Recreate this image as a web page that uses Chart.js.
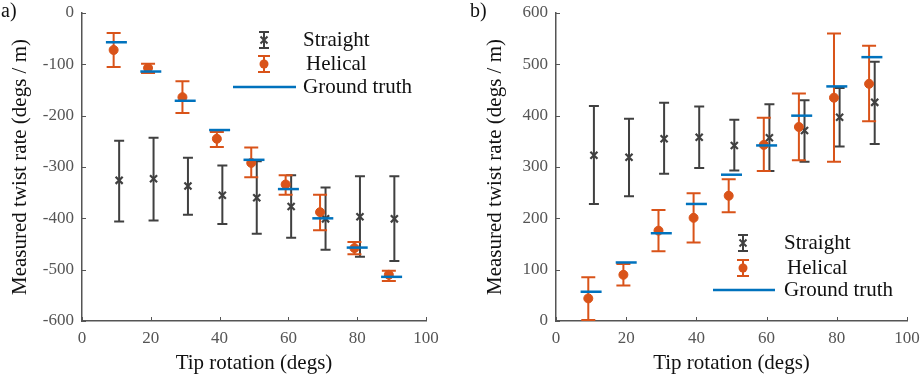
<!DOCTYPE html>
<html>
<head>
<meta charset="utf-8">
<script src="https://cdn.jsdelivr.net/npm/chart.js@4.4.1/dist/chart.umd.min.js"></script>
<style>
  body { margin: 0; background: #fff; }
  #wrap { position: relative; width: 920px; height: 382px; font-family: "Liberation Serif", serif; }
  .panel { position: absolute; top: 0; width: 460px; height: 382px; }
  .tag { position: absolute; top: -1px; font-size: 20px; color: #111; }
</style>
</head>
<body>
<div id="wrap">
  <div class="panel" style="left:0"><canvas id="chart-a"></canvas></div>
  <div class="panel" style="left:460px"><canvas id="chart-b"></canvas></div>
  <div class="tag" style="left:1px">a)</div>
  <div class="tag" style="left:470px">b)</div>
</div>
<script>
// data
const tipRotation = [10, 20, 30, 40, 50, 60, 70, 80, 90];

// panel a (negative twist)
const straightA = [-326, -323, -337, -355, -360, -377, -401, -397, -401];
const straightAHigh = [-249, -243, -282, -297, -289, -316, -340, -318, -318];
const straightALow = [-406, -404, -393, -411, -430, -438, -461, -475, -483];
const helicalA = [-72, -107, -164, -245, -292, -334, -388, -458, -510];
const helicalAHigh = [-39, -99, -133, -232, -262, -316, -354, -446, -502];
const helicalALow = [-105, -117, -195, -261, -320, -354, -423, -470, -522];
const truthA = [-57, -114, -171, -228, -286, -343, -400, -457, -514];
const yTicksA = [-600, -500, -400, -300, -200, -100, 0];

// panel b (positive twist)
const straightB = [323, 319, 355, 358, 342, 357, 371, 397, 426];
const straightBHigh = [419, 394, 425, 418, 392, 422, 430, 454, 505];
const straightBLow = [228, 243, 287, 298, 293, 292, 310, 340, 345];
const helicalB = [44, 90, 176, 201, 244, 343, 378, 435, 462];
const helicalBHigh = [85, 111, 216, 249, 276, 396, 443, 560, 536];
const helicalBLow = [2, 69, 136, 153, 212, 292, 313, 310, 389];
const truthB = [57, 114, 171, 228, 285, 342, 400, 457, 514];
const yTicksB = [0, 100, 200, 300, 400, 500, 600];

const xTicks = [0, 20, 40, 60, 80, 100];
const legendLabels = ['Straight', 'Helical', 'Ground truth'];

const DARK = '#404040';
const ORANGE = '#D95319';
const BLUE = '#0072BD';
const FONT = '"Liberation Serif", serif';

// error bars + inward ticks + legend
const extras = {
  id: 'extras',
  beforeDatasetsDraw(chart, args, opts) {
    const ctx = chart.ctx;
    const x = chart.scales.x, y = chart.scales.y;
    ctx.save();
    opts.bars.forEach(b => {
      ctx.strokeStyle = b.color;
      ctx.lineWidth = 2;
      tipRotation.forEach((t, i) => {
        const px = x.getPixelForValue(t + b.shift);
        const top = y.getPixelForValue(b.high[i]);
        const bot = y.getPixelForValue(b.low[i]);
        ctx.beginPath();
        ctx.moveTo(px, top); ctx.lineTo(px, bot);
        ctx.moveTo(px - b.cap, top); ctx.lineTo(px + b.cap, top);
        ctx.moveTo(px - b.cap, bot); ctx.lineTo(px + b.cap, bot);
        ctx.stroke();
      });
    });
    // inward tick marks
    ctx.strokeStyle = '#555';
    ctx.lineWidth = 1;
    x.ticks.forEach((tk, i) => {
      const px = Math.round(x.getPixelForTick(i)) + 0.5;
      ctx.beginPath(); ctx.moveTo(px, chart.chartArea.bottom); ctx.lineTo(px, chart.chartArea.bottom - 4); ctx.stroke();
    });
    y.ticks.forEach((tk, i) => {
      const py = Math.round(y.getPixelForTick(i)) + 0.5;
      ctx.beginPath(); ctx.moveTo(chart.chartArea.left, py); ctx.lineTo(chart.chartArea.left + 4, py); ctx.stroke();
    });
    ctx.restore();
  },
  afterDraw(chart, args, opts) {
    const ctx = chart.ctx;
    const L = opts.legend;
    ctx.save();
    ctx.font = '21px ' + FONT;
    ctx.fillStyle = '#111';
    ctx.textBaseline = 'middle';
    ctx.lineWidth = 2;
    // straight
    let cy = L.rows[0], cx = L.icon;
    ctx.strokeStyle = DARK;
    ctx.beginPath();
    ctx.moveTo(cx, cy - 8); ctx.lineTo(cx, cy + 8);
    ctx.moveTo(cx - 5, cy - 8); ctx.lineTo(cx + 5, cy - 8);
    ctx.moveTo(cx - 5, cy + 8); ctx.lineTo(cx + 5, cy + 8);
    ctx.moveTo(cx - 3.5, cy - 3.5); ctx.lineTo(cx + 3.5, cy + 3.5);
    ctx.moveTo(cx - 3.5, cy + 3.5); ctx.lineTo(cx + 3.5, cy - 3.5);
    ctx.stroke();
    ctx.fillText(legendLabels[0], L.text, cy);
    // helical
    cy = L.rows[1];
    ctx.strokeStyle = ORANGE;
    ctx.fillStyle = ORANGE;
    ctx.beginPath();
    ctx.moveTo(cx, cy - 8); ctx.lineTo(cx, cy + 8);
    ctx.moveTo(cx - 6, cy - 8); ctx.lineTo(cx + 6, cy - 8);
    ctx.moveTo(cx - 6, cy + 8); ctx.lineTo(cx + 6, cy + 8);
    ctx.stroke();
    ctx.beginPath(); ctx.arc(cx, cy, 4.5, 0, Math.PI * 2); ctx.fill();
    ctx.fillStyle = '#111';
    ctx.fillText(legendLabels[1], L.text + 3, cy);
    // ground truth
    cy = L.rows[2];
    ctx.strokeStyle = BLUE;
    ctx.lineWidth = 2.5;
    ctx.beginPath(); ctx.moveTo(L.line[0], cy); ctx.lineTo(L.line[1], cy); ctx.stroke();
    ctx.fillText(legendLabels[2], L.text, cy);
    ctx.restore();
  }
};

function makeChart(id, d) {
  const pts = (vals, shift) => vals.map((v, i) => ({ x: tipRotation[i] + shift, y: v }));
  return new Chart(document.getElementById(id), {
    type: 'scatter',
    data: {
      datasets: [
        { label: legendLabels[2], data: pts(d.truth, 0), pointStyle: 'line', pointRadius: 10.5,
          borderColor: BLUE, borderWidth: 2.5, pointHoverRadius: 10.5 },
        { label: legendLabels[1], data: pts(d.helical, -0.8), pointStyle: 'circle', pointRadius: 4.5,
          backgroundColor: ORANGE, borderColor: ORANGE, borderWidth: 1 },
        { label: legendLabels[0], data: pts(d.straight, 0.8), pointStyle: 'crossRot', pointRadius: 5,
          borderColor: DARK, borderWidth: 2.2 }
      ]
    },
    options: {
      responsive: false,
      animation: false,
      clip: false,
      layout: { padding: { left: 0, right: d.padRight, top: 8, bottom: 0 } },
      scales: {
        x: {
          type: 'linear', min: 0, max: 100,
          afterBuildTicks: s => { s.ticks = xTicks.map(v => ({ value: v })); },
          afterFit: s => { s.height = 61; s.paddingLeft = 0; s.paddingRight = 0; },
          grid: { drawOnChartArea: false, drawTicks: false },
          border: { color: '#555', width: 1.5 },
          ticks: { padding: 7, color: '#555', font: { family: FONT, size: 17 } },
          title: { display: true, text: 'Tip rotation (degs)', color: '#111',
                   font: { family: FONT, size: 21 }, padding: { top: 0, bottom: 6 } }
        },
        y: {
          type: 'linear', min: d.yTicks[0], max: d.yTicks[d.yTicks.length - 1],
          afterBuildTicks: s => { s.ticks = d.yTicks.map(v => ({ value: v })); },
          afterFit: s => { s.width = d.yWidth; s.paddingTop = 0; s.paddingBottom = 0; },
          grid: { drawOnChartArea: false, drawTicks: false },
          border: { color: '#555', width: 1.5 },
          ticks: { padding: 8, color: '#555', font: { family: FONT, size: 17 } },
          title: { display: true, text: 'Measured twist rate (degs / m)', color: '#111',
                   font: { family: FONT, size: 21 }, padding: { top: d.titlePad, bottom: 0 } }
        }
      },
      plugins: {
        legend: { display: false },
        tooltip: { enabled: false },
        extras: {
          bars: [
            { high: d.straightHigh, low: d.straightLow, shift: 0.8, color: DARK, cap: 5 },
            { high: d.helicalHigh, low: d.helicalLow, shift: -0.8, color: ORANGE, cap: 7 }
          ],
          legend: d.legend
        }
      }
    },
    plugins: [extras]
  });
}

// size canvases before the charts
['chart-a', 'chart-b'].forEach(id => {
  const c = document.getElementById(id);
  c.width = 460; c.height = 382;
  c.style.width = '460px'; c.style.height = '382px';
});

makeChart('chart-a', {
  straight: straightA, straightHigh: straightAHigh, straightLow: straightALow,
  helical: helicalA, helicalHigh: helicalAHigh, helicalLow: helicalALow,
  truth: truthA, yTicks: yTicksA, yWidth: 82, padRight: 34, titlePad: 8,
  legend: { icon: 264, text: 303, rows: [40, 64, 87], line: [233, 296] }
});

makeChart('chart-b', {
  straight: straightB, straightHigh: straightBHigh, straightLow: straightBLow,
  helical: helicalB, helicalHigh: helicalBHigh, helicalLow: helicalBLow,
  truth: truthB, yTicks: yTicksB, yWidth: 96, padRight: 9, titlePad: 23,
  legend: { icon: 283, text: 324, rows: [243, 268, 290], line: [253, 315] }
});
</script>
</body>
</html>
